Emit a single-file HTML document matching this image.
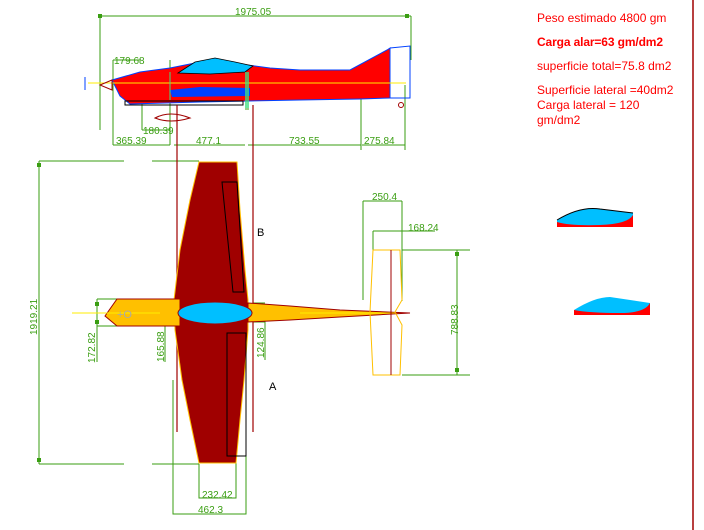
<!DOCTYPE html>
<html><head><style>
body{margin:0;background:#fff;width:704px;height:530px;overflow:hidden}
svg{display:block}
text{font-family:"Liberation Sans",sans-serif}
</style></head><body>
<svg width="704" height="530" viewBox="0 0 704 530" xmlns="http://www.w3.org/2000/svg">
<g fill="none" stroke="#3a9e12" stroke-width="1">
<!-- side view dims -->
<path d="M100,16H411M100,16V130M411,16V60"/>
<path d="M113,145H170M113,60H140M113,60V145M170,60V145M142,130H170M142,90V130"/>
<path d="M174,145H245M248,145H361M362,145H405M405,85V150M361,82V150"/>
<path d="M140,78H246M246,78V110M248,78V110"/>
<!-- top view dims -->
<path d="M39,161H124M152,161H199M39,464H124M152,464H199M39,161V464"/>
<path d="M97,299V362M97,299H117M97,326H117M165,299V362M236,303H248M236,322H248M265,306V360M253,303H265M253,322H265"/>
<path d="M363,201H402M363,201V300M402,201V301M373,231H435M373,231V250M402,231"/>
<path d="M402,250H470M402,375H470M457,250V375"/>
<path d="M199,464V498H236V463M173,380V514H246V380M173,514H246"/>
</g>
<g fill="#3a9e12">
<rect x="98" y="14" width="4" height="4"/><rect x="405" y="14" width="4" height="4"/>
<rect x="37" y="163" width="4" height="4"/><rect x="37" y="458" width="4" height="4"/>
<rect x="95" y="302" width="4" height="4"/><rect x="95" y="320" width="4" height="4"/>
<rect x="163" y="302" width="4" height="4"/><rect x="163" y="320" width="4" height="4"/>
<rect x="263" y="306" width="4" height="4"/><rect x="263" y="316" width="4" height="4"/>
<rect x="455" y="252" width="4" height="4"/><rect x="455" y="368" width="4" height="4"/>
</g>
<g font-size="10" fill="#3a9e12">
<text x="235" y="15">1975.05</text>
<text x="114" y="64">179.68</text>
<text x="143" y="134">180.39</text>
<text x="116" y="144">365.39</text>
<text x="196" y="144">477.1</text>
<text x="289" y="144">733.55</text>
<text x="364" y="144">275.84</text>
<text x="372" y="200">250.4</text>
<text x="408" y="231">168.24</text>
<text x="202" y="498">232.42</text>
<text x="198" y="513">462.3</text>
<text transform="translate(37,335) rotate(-90)">1919.21</text>
<text transform="translate(95,363) rotate(-90)">172.82</text>
<text transform="translate(164,362) rotate(-90)">165.88</text>
<text transform="translate(264,358) rotate(-90)">124.86</text>
<text transform="translate(458,335) rotate(-90)">788.83</text>
</g>
<!-- side view fuselage -->
<path d="M112,80L140,72L170,68L200,62L240,64L270,68L300,70L350,70L387,50L390,48L390,98L360,99L300,100L200,102L130,104L120,96Z" fill="#ff0000" stroke="#0040ff" stroke-width="1"/>
<path d="M178,73L195,62L215,58L235,62L253,66L245,72L210,74Z" fill="#00bfff" stroke="#000" stroke-width="0.8"/>
<path d="M170,90L200,87L250,88L250,96L172,97Z" fill="#0040ff"/>
<path d="M390,48L410,46V98H390" fill="none" stroke="#0040ff"/>
<path d="M88,83H406" stroke="#ffee00" stroke-width="1"/>
<path d="M85,77V90" stroke="#0040ff"/>
<path d="M112,80L100,85L112,90Z" fill="none" stroke="#a00000"/>
<path d="M155,118Q170,110 190,118Q170,124 155,118Z" fill="none" stroke="#a00000"/>
<path d="M125,101H243V105H125Z" fill="none" stroke="#000"/>
<path d="M246,72V108M248,72V108" stroke="#40e080" stroke-width="1.5"/>
<path d="M170,72V100" stroke="#40e080"/>
<circle cx="401" cy="105" r="2.5" fill="none" stroke="#a00000"/>
<!-- dark red verticals -->
<path d="M177,105V432M253,105V432" stroke="#a00000" stroke-width="1.2"/>
<path d="M693,0V530" stroke="#a00000" stroke-width="1.5"/>
<!-- top view wing -->
<path d="M199,162L237,162L240,210L245,270L248,300L248,330L244,380L240,420L236,463L199,463L190,420L182,380L175,330L174,300L180,250L190,200Z" fill="#a00000" stroke="#ffc000" stroke-width="1"/>
<path d="M222,182H237L244,292H233Z" fill="none" stroke="#000"/>
<path d="M227,333H246V456H227Z" fill="none" stroke="#000"/>
<!-- fuselage -->
<path d="M117,299H180V326H117L105,316Z" fill="#ffc000" stroke="#a00000"/>
<path d="M248,303L290,306L340,310L410,313L340,317L290,320L248,322Z" fill="#ffc000" stroke="#a00000"/>
<ellipse cx="215" cy="313" rx="37" ry="11" fill="#00bfff" stroke="#a00000"/>
<path d="M72,313H160M300,313H395" stroke="#ffee00"/>
<text x="117" y="318" font-size="11" fill="#aaa">+O</text>
<!-- stab -->
<path d="M373,250H400L402,300L395,312L402,325L400,375H373L370,312Z" fill="none" stroke="#ffc000"/>
<path d="M391,250V375" stroke="#a00000"/>
<text x="257" y="236" font-size="11" fill="#000">B</text>
<text x="269" y="390" font-size="11" fill="#000">A</text>
<!-- right text -->
<g fill="#ff0000" font-size="12">
<text x="537" y="22">Peso estimado 4800 gm</text>
<text x="537" y="46" font-weight="bold" font-family="Liberation Sans Narrow,Liberation Sans,sans-serif" font-size="12" transform="scale(1,1)" textLength="126">Carga alar=63 gm/dm2</text>
<text x="537" y="70">superficie total=75.8 dm2</text>
<text x="537" y="94">Superficie lateral =40dm2</text>
<text x="537" y="109">Carga lateral = 120</text>
<text x="537" y="124">gm/dm2</text>
</g>
<!-- airfoils -->
<path d="M557,220Q580,206 600,209L633,213V227H557Z" fill="#00bfff"/>
<path d="M557,220Q580,206 600,209L633,213" fill="none" stroke="#000"/>
<path d="M557,222V227H633V215Q628,224 600,225Q570,226 557,222Z" fill="#ff0000"/>
<path d="M574,310Q595,297 610,297L650,303V315H574Z" fill="#00bfff"/>
<path d="M574,310V315H650V303Q645,313 620,313Q590,313 574,310Z" fill="#ff0000"/>
</svg>
</body></html>
